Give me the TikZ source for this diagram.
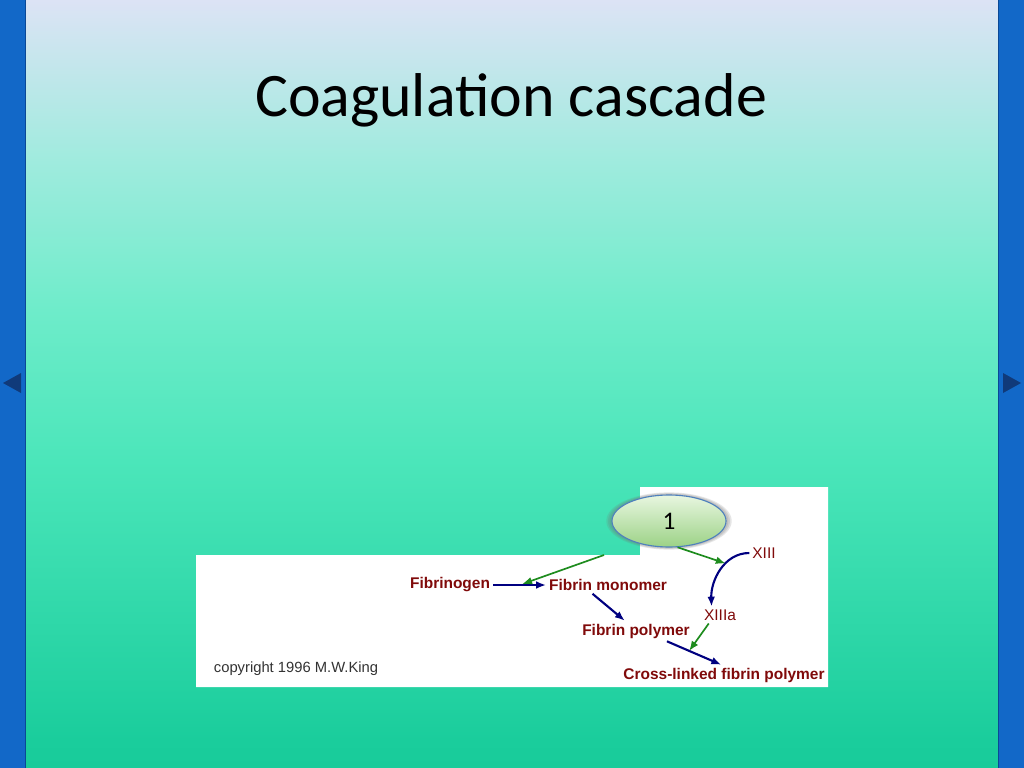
\documentclass[tikz,border=0pt]{standalone}
\usepackage{fontspec}
\setmainfont{Liberation Sans}
\newfontfamily\titlefont{Carlito}
\usetikzlibrary{shapes.geometric,shadows,arrows.meta}

\pgfdeclareverticalshading{slidebg}{100bp}{
  rgb(0bp)=(0.094,0.796,0.604);
  rgb(25bp)=(0.094,0.796,0.604);
  rgb(26.8bp)=(0.102,0.804,0.612);
  rgb(45bp)=(0.294,0.902,0.729);
  rgb(54.8bp)=(0.431,0.925,0.792);
  rgb(64.6bp)=(0.627,0.922,0.871);
  rgb(75bp)=(0.863,0.890,0.961);
  rgb(100bp)=(0.863,0.890,0.961)}

\definecolor{navbar}{RGB}{18,104,200}
\definecolor{navedge}{RGB}{10,72,150}
\definecolor{navtip}{RGB}{16,58,122}
\definecolor{factorred}{RGB}{128,10,10}
\definecolor{convblue}{RGB}{0,0,128}
\definecolor{enzgreen}{RGB}{30,140,30}
\definecolor{badgetop}{RGB}{232,246,224}
\definecolor{badgebot}{RGB}{156,210,134}
\definecolor{badgeedge}{RGB}{79,129,189}

\begin{document}
\begin{tikzpicture}[
    x=0.025cm, y=-0.025cm,
    molecule/.style={font=\fontsize{11}{13}\selectfont\bfseries,
                     text=factorred, inner sep=2pt},
    zymogen/.style={font=\fontsize{11}{13}\selectfont,
                    text=factorred, inner sep=2pt},
    credit/.style={font=\fontsize{10.5}{12}\selectfont, text=black!80},
    glow/.style={drop shadow={shadow xshift=0pt, shadow yshift=0pt,
                              shadow scale=#1, opacity=0.18,
                              fill=black!55}},
    badge/.style={ellipse, draw=badgeedge, line width=0.8pt,
                  top color=badgetop, bottom color=badgebot,
                  minimum width=2.85cm, minimum height=1.3cm,
                  font=\titlefont\fontsize{18}{20}\selectfont,
                  glow=1.10, glow=1.07, glow=1.04},
    convert/.style={-{Latex[length=7pt,width=5.5pt]}, convblue,
                    line width=1.5pt},
    activate/.style={-{Latex[length=7pt,width=5.5pt]}, enzgreen,
                     line width=1.2pt},
]
\useasboundingbox (0,0) rectangle (1024,768);

% Slide background and side bars
\shade[shading=slidebg] (0,0) rectangle (1024,768);
\fill[navbar] (0,0) rectangle (26,768);
\draw[navedge, line width=1pt] (25.5,0) -- (25.5,768);
\fill[navbar] (998,0) rectangle (1024,768);
\draw[navedge, line width=1pt] (998.5,0) -- (998.5,768);
\fill[navtip] (3,383) -- (21,373) -- (21,393) -- cycle;
\fill[navtip] (1021,383) -- (1003,373) -- (1003,393) -- cycle;

% Title
\node (title) at (511,100) {\titlefont\fontsize{44}{50}\selectfont Coagulation cascade};

% White picture panel
\fill[white] (196,555) -- (640,555) -- (640,487) -- (828,487)
             -- (828,687) -- (196,687) -- cycle;

% Nodes
\node[molecule] (fbg)   at (450,585) {Fibrinogen};
\node[molecule] (fmono) at (608,585) {Fibrin monomer};
\node[molecule] (fpoly) at (636,631) {Fibrin polymer};
\node[zymogen]  (xiii)  at (764,553) {XIII};
\node[zymogen]  (xiiia) at (720,615) {XIIIa};
\node[molecule] (xlink) at (724,675) {Cross-linked fibrin polymer};
\node[credit]   (copy)  at (296,669) {copyright 1996 M.W.King};
\node[badge]    (one)   at (669,521) {1};
\coordinate (cut) at (604,555);

% Conversions (blue)
\draw[convert] (fbg) -- coordinate[pos=0.5] (hitA) (fmono);
\draw[convert] ([xshift=-11pt]fmono.south) -- ([xshift=-8pt]fpoly.north);
\draw[convert] ([xshift=22pt]fpoly.south)
               -- coordinate[pos=0.41] (hitC) ([xshift=-2pt]xlink.north);
\draw[convert] (xiii.west) to[out=180, in=92]
               coordinate[pos=0.38] (hitB) ([xshift=-6pt]xiiia.north);

% Activations (green)
\draw[activate, shorten >=2pt] (cut) -- (hitA);
\draw[activate] (one.-72) -- (hitB);
\draw[activate] ([xshift=-8pt]xiiia.south) -- (hitC);

\end{tikzpicture}
\end{document}
